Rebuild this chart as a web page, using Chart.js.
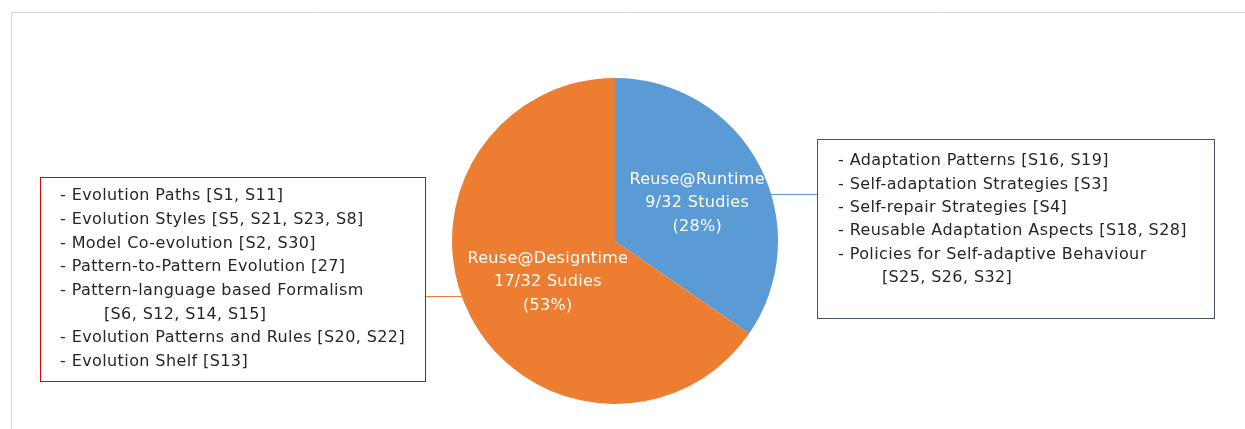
<!DOCTYPE html>
<html>
<head>
<meta charset="utf-8">
<script src="https://cdn.jsdelivr.net/npm/chart.js@4.4.0/dist/chart.umd.min.js"></script>
<style>
  html, body { margin: 0; padding: 0; background: #fff; }
  #wrap { position: relative; width: 1245px; height: 429px; }
</style>
</head>
<body>
<div id="wrap"><canvas id="pieChart" width="1245" height="429"></canvas></div>
<script>
// data
const categories = ['Reuse@Runtime', 'Reuse@Designtime'];
const studyCounts = [9, 17];
const totalStudies = 32;
const countLabels = ['9/32 Studies', '17/32 Sudies'];
const percentLabels = ['(28%)', '(53%)'];
const sliceColors = ['#5B9BD5', '#ED7D31'];

const runtimeItems = [
    '- Adaptation Patterns [S16, S19]',
    '- Self-adaptation Strategies [S3]',
    '- Self-repair Strategies [S4]',
    '- Reusable Adaptation Aspects [S18, S28]',
    '- Policies for Self-adaptive Behaviour',
    '        [S25, S26, S32]'
];
const designtimeItems = [
    '- Evolution Paths [S1, S11]',
    '- Evolution Styles [S5, S21, S23, S8]',
    '- Model Co-evolution [S2, S30]',
    '- Pattern-to-Pattern Evolution [27]',
    '- Pattern-language based Formalism',
    '        [S6, S12, S14, S15]',
    '- Evolution Patterns and Rules [S20, S22]',
    '- Evolution Shelf [S13]'
];

const FONT = '"DejaVu Sans", sans-serif';

// Callout boxes: box rectangle, line spacing, which slice they belong to
const callouts = [
    { slice: 0, items: runtimeItems, x: 817, y: 139, w: 397, h: 179, textX: 838, firstY: 161, lineH: 23.4, border: '#44546A', lineY: 194, side: 'right' },
    { slice: 1, items: designtimeItems, x: 40, y: 177, w: 385, h: 204, textX: 60, firstY: 196, lineH: 23.7, border: '#E00000', lineY: 296, side: 'left' }
];

const decorPlugin = {
    id: 'decor',
    beforeDraw(chart) {
        const ctx = chart.ctx;
        ctx.save();
        // outer light frame
        ctx.strokeStyle = '#D9D9D9';
        ctx.lineWidth = 1;
        ctx.beginPath();
        ctx.moveTo(11.5, 440);
        ctx.lineTo(11.5, 12.5);
        ctx.lineTo(1245, 12.5);
        ctx.stroke();
        ctx.restore();
    },
    afterDatasetsDraw(chart) {
        const ctx = chart.ctx;
        const arcs = chart.getDatasetMeta(0).data;
        ctx.save();

        // labels inside slices
        ctx.fillStyle = '#FFFFFF';
        ctx.font = '16px ' + FONT;
        ctx.letterSpacing = '0.3px';
        ctx.textAlign = 'center';
        ctx.textBaseline = 'middle';
        arcs.forEach((arc, i) => {
            const p = arc.tooltipPosition();
            const cx = p.x + (i === 0 ? 10 : 5);
            const cy = p.y + (i === 0 ? 0 : 3);
            ctx.fillText(categories[i], cx, cy - 23);
            ctx.fillText(countLabels[i], cx, cy);
            ctx.fillText(percentLabels[i], cx, cy + 24);
        });

        // callout boxes and connector lines
        callouts.forEach(c => {
            const arc = arcs[c.slice];
            const r = arc.outerRadius;
            const dy = c.lineY - arc.y;
            const edgeDx = Math.sqrt(Math.max(r * r - dy * dy, 0));
            const edgeX = c.side === 'right' ? arc.x + edgeDx : arc.x - edgeDx;
            const boxX = c.side === 'right' ? c.x : c.x + c.w;

            ctx.strokeStyle = sliceColors[c.slice];
            ctx.lineWidth = 1;
            ctx.beginPath();
            ctx.moveTo(edgeX, c.lineY + 0.5);
            ctx.lineTo(boxX, c.lineY + 0.5);
            ctx.stroke();

            ctx.fillStyle = '#FFFFFF';
            ctx.fillRect(c.x, c.y, c.w, c.h);
            ctx.strokeStyle = c.border;
            ctx.lineWidth = 1;
            ctx.strokeRect(c.x + 0.5, c.y + 0.5, c.w, c.h);

            ctx.fillStyle = '#262626';
            ctx.font = '16px ' + FONT;
            ctx.letterSpacing = '0.4px';
            ctx.textAlign = 'left';
            ctx.textBaseline = 'middle';
            c.items.forEach((line, k) => {
                ctx.fillText(line, c.textX, c.firstY + k * c.lineH);
            });
        });
        ctx.restore();
    }
};

new Chart(document.getElementById('pieChart').getContext('2d'), {
    type: 'pie',
    data: {
        labels: categories,
        datasets: [{
            data: studyCounts,
            backgroundColor: sliceColors,
            borderWidth: 0
        }]
    },
    options: {
        responsive: false,
        animation: false,
        layout: { padding: { left: 452, right: 467, top: 78, bottom: 25 } },
        plugins: {
            legend: { display: false },
            tooltip: { enabled: false }
        }
    },
    plugins: [decorPlugin]
});
</script>
</body>
</html>
